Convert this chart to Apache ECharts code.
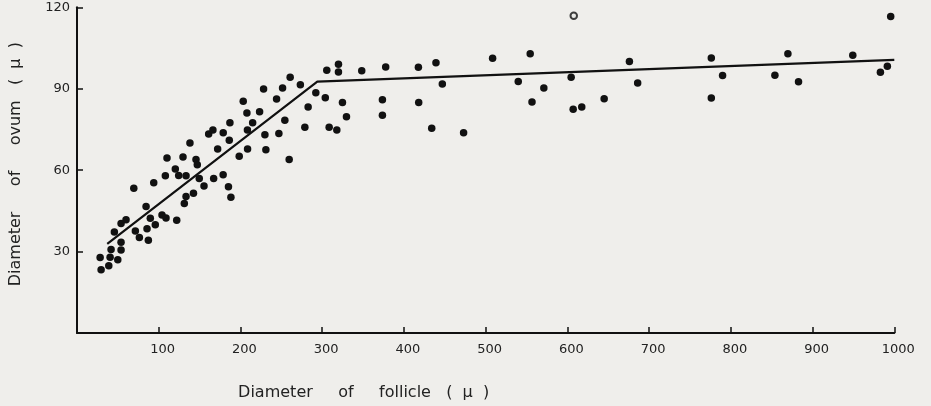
<!DOCTYPE html>
<html>
<head>
<meta charset="utf-8">
<script src="https://cdn.jsdelivr.net/npm/echarts@6/dist/echarts.min.js"></script>
<style>
html,body{margin:0;padding:0;background:#efeeeb;}
#c{width:931px;height:406px;}
</style>
</head>
<body>
<div id="c"></div>
<script>
// Data
const xTicks = [100, 200, 300, 400, 500, 600, 700, 800, 900, 1000];
const yTicks = [30, 60, 90, 120];

const follicle = [
  28.3, 29.5, 38.9, 40.5, 49.9, 41.7, 53.9, 53.9, 45.7, 53.9,
  60.0, 69.5, 71.4, 76.3, 87.3, 85.7, 95.8, 89.7, 84.5, 104.0,
  108.9, 122.0, 93.9, 108.1, 124.4, 133.4, 133.4, 131.3, 142.5, 110.1,
  129.7, 145.6, 147.2, 120.3, 149.6, 167.2, 178.8, 155.4, 185.3, 188.3,
  138.2, 172.1, 208.7, 198.5, 186.3, 161.1, 166.3, 178.9, 187.1, 208.5,
  214.9, 203.4, 207.9, 223.4, 228.3, 244.2, 251.5, 260.8, 273.3, 254.3,
  247.0, 229.9, 231.1, 259.6, 278.8, 282.8, 292.2, 303.8, 308.5, 317.9,
  305.6, 319.9, 319.9, 324.8, 329.7, 348.4, 377.7, 373.7, 373.7, 417.7,
  418.1, 439.2, 447.0, 434.0, 473.0, 508.5, 554.5, 539.9, 556.7, 571.2,
  604.6, 607.1, 617.6, 645.0, 675.9, 686.0, 776.1, 776.1, 789.9, 869.8,
  853.9, 882.8, 949.2, 983.0, 991.5, 995.6
];
const ovum = [
  27.8, 23.3, 24.8, 27.9, 27.0, 30.8, 30.6, 33.4, 37.2, 40.3,
  41.7, 53.3, 37.6, 35.2, 34.2, 38.4, 39.9, 42.3, 46.6, 43.5,
  42.4, 41.5, 55.4, 57.9, 58.0, 57.9, 50.3, 47.7, 51.5, 64.5,
  64.8, 63.9, 62.0, 60.4, 56.9, 56.9, 58.3, 54.2, 53.9, 50.0,
  70.0, 67.8, 67.8, 65.1, 71.0, 73.3, 74.8, 73.8, 77.5, 74.8,
  77.5, 85.4, 81.1, 81.5, 89.9, 86.2, 90.3, 94.2, 91.5, 78.4,
  73.5, 73.0, 67.5, 63.9, 75.8, 83.3, 88.5, 86.7, 75.8, 74.8,
  96.8, 99.0, 96.2, 84.9, 79.7, 96.6, 98.0, 85.9, 80.2, 97.9,
  84.9, 99.6, 91.7, 75.4, 73.8, 101.2, 102.9, 92.7, 85.1, 90.3,
  94.2, 82.4, 83.3, 86.3, 100.0, 92.1, 101.3, 86.6, 94.9, 102.9,
  95.0, 92.6, 102.3, 96.1, 98.3, 116.6
];
// open-circle point
const openFollicle = [607.8];
const openOvum = [116.9];
// fitted broken line
const fitX = [37, 294, 1000];
const fitY = [32.8, 92.6, 100.6];

const pts = follicle.map((x, i) => [x, ovum[i]]);
const openPts = openFollicle.map((x, i) => [x, openOvum[i]]);
const fitPts = fitX.map((x, i) => [x, fitY[i]]);

const font = '"DejaVu Sans", sans-serif';
const chart = echarts.init(document.getElementById('c'), null, {renderer: 'canvas'});
chart.setOption({
  backgroundColor: '#efeeeb',
  animation: false,
  grid: {left: 76, right: 36.7, top: 7.3, bottom: 68.5, containLabel: false},
  xAxis: {
    type: 'value', min: 0, max: 1000, interval: 100,
    name: 'Diameter     of     follicle   (  μ  )',
    nameLocation: 'middle', nameGap: 52,
    nameTextStyle: {fontFamily: font, fontSize: 16, color: '#222', padding: [0, 244, 0, 0]},
    axisLine: {show: true, onZero: false, lineStyle: {color: '#111', width: 2}},
    axisTick: {show: true, inside: true, length: 6, lineStyle: {color: '#111', width: 1.5},
      customValues: xTicks},
    axisLabel: {fontFamily: font, fontSize: 13, color: '#222', margin: 10, padding: [0, 0, 0, 8],
      customValues: xTicks, formatter: v => String(v)},
    splitLine: {show: false}
  },
  yAxis: {
    type: 'value', min: 0, max: 120, interval: 30,
    name: 'Diameter     of     ovum   (  μ  )',
    nameLocation: 'middle', nameGap: 53,
    nameTextStyle: {fontFamily: font, fontSize: 16, color: '#222', padding: [0, 0, 0, 12]},
    axisLine: {show: true, onZero: false, lineStyle: {color: '#111', width: 2}},
    axisTick: {show: true, inside: true, length: 6, lineStyle: {color: '#111', width: 1.5},
      customValues: yTicks},
    axisLabel: {fontFamily: font, fontSize: 13, color: '#222', margin: 7, customValues: yTicks,
      formatter: v => String(v)},
    splitLine: {show: false}
  },
  series: [
    {
      type: 'line', data: fitPts, symbol: 'none', z: 2,
      lineStyle: {color: '#111', width: 2.2}
    },
    {
      type: 'scatter', data: pts, symbol: 'circle', symbolSize: 7.5, z: 3,
      itemStyle: {color: '#111', opacity: 1}
    },
    {
      type: 'scatter', data: openPts, symbol: 'circle', symbolSize: 6.5, z: 3,
      itemStyle: {color: '#e8e8e6', borderColor: '#111', borderWidth: 2}
    }
  ]
});
</script>
</body>
</html>
